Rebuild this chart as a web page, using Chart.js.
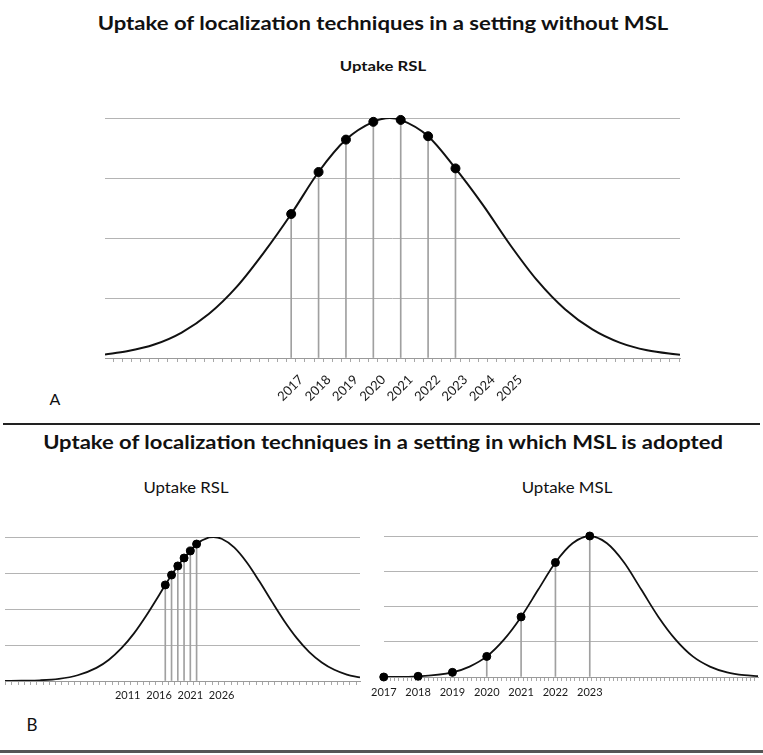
<!DOCTYPE html>
<html>
<head>
<meta charset="utf-8">
<script src="https://cdn.jsdelivr.net/npm/chart.js@4.4.1/dist/chart.umd.min.js"></script>
<style>
    body { margin: 0; background: #fff; }
    #page { position: relative; width: 763px; height: 755px; overflow: hidden; font-family: Lato, 'Open Sans', sans-serif; color: #111; }
    .txt { position: absolute; white-space: nowrap; line-height: 1; transform-origin: 0 0; }
    .rule { position: absolute; }
    canvas { position: absolute; }
</style>
</head>
<body>
<div id="page">
    <div class="txt" data-cx="383" data-cy="22" data-w="571" style="font-weight:700;font-size:19px">Uptake of localization techniques in a setting without MSL</div>
    <div class="txt" data-cx="383" data-cy="66" data-w="86" style="font-weight:700;font-size:14px">Uptake RSL</div>
    <div class="txt" data-cx="55" data-cy="399" style="font-size:16px">A</div>
    <div class="rule" style="left:3px;top:423px;width:757px;height:2px;background:#222"></div>
    <div class="txt" data-cx="383" data-cy="441" data-w="680" style="font-weight:700;font-size:19px">Uptake of localization techniques in a setting in which MSL is adopted</div>
    <div class="txt" data-cx="186" data-cy="487" data-w="85" style="font-size:15px">Uptake RSL</div>
    <div class="txt" data-cx="567" data-cy="487" data-w="91" style="font-size:15px">Uptake MSL</div>
    <div class="txt" data-cx="32" data-cy="724" style="font-size:17px">B</div>
    <div class="rule" style="left:0;top:750px;width:763px;height:3px;background:#555"></div>

    <canvas id="chart-a" width="763" height="360" style="left:0;top:60px"></canvas>
    <canvas id="chart-bl" width="370" height="200" style="left:0;top:520px"></canvas>
    <canvas id="chart-br" width="397" height="200" style="left:366px;top:520px"></canvas>
</div>
<script>
// Panel A - RSL uptake without MSL (values in % of peak)
const curveYearsA = [2010.2, 2011, 2012, 2013, 2014, 2015, 2016, 2017, 2018, 2019, 2020, 2020.6, 2021, 2022, 2023, 2024, 2025, 2026, 2027, 2028, 2029, 2030, 2031.2];
const curveValuesA = [1.5, 2.8, 5.6, 10.6, 18.4, 29.5, 43.9, 60, 77.5, 91, 98.4, 100, 99.2, 92.4, 79, 63.8, 47.1, 32.1, 20.3, 11.9, 6.4, 3.2, 1.3];
const pointYearsA = [2017, 2018, 2019, 2020, 2021, 2022, 2023];
const pointValuesA = [60, 77.5, 91, 98.4, 99.2, 92.4, 79];
const tickLabelsA = [2017, 2018, 2019, 2020, 2021, 2022, 2023, 2024, 2025];

// Panel B left - RSL uptake when MSL is adopted
const curveYearsBL = [1991.4, 1994, 1997, 2000, 2003, 2006, 2008, 2010, 2012, 2014, 2016, 2017, 2018, 2019, 2020, 2021, 2022, 2024, 2024.7, 2026, 2028, 2030, 2032, 2034, 2036, 2038, 2040, 2042, 2044, 2046, 2048.1];
const curveValuesBL = [0, 0.2, 0.5, 1.5, 4, 9.1, 14.8, 22.8, 33.1, 45.7, 59.6, 66.7, 73.6, 79.9, 85.4, 90.3, 95.1, 99.7, 100, 98.8, 92.8, 82.5, 69.4, 55.3, 41.7, 29.8, 20.1, 12.9, 7.8, 4.5, 2.5];
const pointYearsBL = [2017, 2018, 2019, 2020, 2021, 2022];
const pointValuesBL = [66.7, 73.6, 79.9, 85.4, 90.3, 95.1];
const tickLabelsBL = [2011, 2016, 2021, 2026];

// Panel B right - MSL uptake
const curveYearsBR = [2017, 2018, 2019, 2019.5, 2020, 2020.5, 2021, 2021.5, 2022, 2022.5, 2023, 2023.5, 2024, 2024.5, 2025, 2025.5, 2026, 2026.5, 2027, 2027.5, 2027.9];
const curveValuesBR = [0, 0.5, 3.3, 7.4, 14.6, 26.5, 42.6, 62, 81.2, 94.8, 100, 94.8, 81.2, 62, 42.6, 26.5, 14.6, 7.4, 3.3, 1.3, 0.6];
const pointYearsBR = [2017, 2018, 2019, 2020, 2021, 2022, 2023];
const pointValuesBR = [0, 0.5, 3.3, 14.6, 42.6, 81.2, 100];
const tickLabelsBR = [2017, 2018, 2019, 2020, 2021, 2022, 2023];

const FONT = 'Lato, "Open Sans", sans-serif';

// place and stretch the html texts
document.querySelectorAll('.txt').forEach(el => {
    el.style.left = el.dataset.cx + 'px';
    el.style.top = el.dataset.cy + 'px';
    let sx = 1;
    if (el.dataset.w) {
        sx = parseFloat(el.dataset.w) / el.offsetWidth;
    }
    el.style.transform = `scaleX(${sx}) translate(-50%, -50%)`;
});

function toXY(xs, ys) {
    return xs.map((x, i) => ({ x: x, y: ys[i] }));
}

// small tick marks along the x axis
function minorTicks(min, max, step) {
    const ticks = [];
    for (let k = Math.ceil(min / step - 1e-6); k * step <= max + 1e-6; k++) {
        ticks.push({ value: k * step });
    }
    return ticks;
}

function buildChart(id, cfg) {
    return new Chart(document.getElementById(id), {
        type: 'scatter',
        data: {
            datasets: [
                {
                    type: 'bar',
                    data: toXY(cfg.pointYears, cfg.pointValues),
                    backgroundColor: '#a0a0a0',
                    barThickness: 1,
                    order: 3
                },
                {
                    type: 'line',
                    data: toXY(cfg.curveYears, cfg.curveValues),
                    borderColor: '#111',
                    borderWidth: cfg.lineWidth,
                    pointRadius: 0,
                    cubicInterpolationMode: 'monotone',
                    fill: false,
                    order: 2
                },
                {
                    type: 'scatter',
                    data: toXY(cfg.pointYears, cfg.pointValues),
                    backgroundColor: '#000',
                    borderColor: '#000',
                    pointRadius: cfg.pointRadius,
                    clip: false,
                    order: 1
                }
            ]
        },
        options: {
            responsive: false,
            animation: false,
            devicePixelRatio: 1,
            layout: { padding: cfg.padding },
            plugins: {
                legend: { display: false },
                tooltip: { enabled: false }
            },
            scales: {
                x: {
                    type: 'linear',
                    min: cfg.min,
                    max: cfg.max,
                    offset: false,
                    grid: {
                        drawOnChartArea: false,
                        drawTicks: true,
                        tickLength: 4,
                        tickColor: '#a8a8a8'
                    },
                    border: { display: true, color: '#9a9a9a' },
                    ticks: {
                        autoSkip: false,
                        minRotation: cfg.rotation,
                        maxRotation: cfg.rotation,
                        padding: cfg.labelPadding,
                        labelOffset: cfg.labelOffset,
                        color: '#1a1a1a',
                        font: { family: FONT, size: cfg.fontSize },
                        callback: function(value) {
                            const hit = cfg.tickLabels.find(y => Math.abs(y - value) < 1e-6);
                            return hit === undefined ? '' : String(hit);
                        }
                    },
                    afterBuildTicks: function(scale) {
                        scale.ticks = minorTicks(cfg.min, cfg.max, cfg.tickStep);
                    },
                    afterFit: function(scale) {
                        scale.height = cfg.axisHeight;
                    }
                },
                y: {
                    min: 0,
                    max: 100,
                    ticks: { display: false, stepSize: 25 },
                    grid: { color: '#b4b4b4', drawTicks: false },
                    border: { display: false },
                    afterFit: function(scale) {
                        scale.width = 0;
                    }
                }
            }
        }
    });
}

buildChart('chart-a', {
    curveYears: curveYearsA, curveValues: curveValuesA,
    pointYears: pointYearsA, pointValues: pointValuesA,
    tickLabels: tickLabelsA,
    min: 2010.2, max: 2031.2, tickStep: 1 / 3,
    padding: { left: 105, right: 83, top: 58, bottom: 0 },
    axisHeight: 62, rotation: 45, labelPadding: 10, labelOffset: 10, fontSize: 13,
    lineWidth: 2, pointRadius: 4.5
});

buildChart('chart-bl', {
    curveYears: curveYearsBL, curveValues: curveValuesBL,
    pointYears: pointYearsBL, pointValues: pointValuesBL,
    tickLabels: tickLabelsBL,
    min: 1991.4, max: 2048.1, tickStep: 1,
    padding: { left: 4, right: 10, top: 17, bottom: 0 },
    axisHeight: 39, rotation: 0, labelPadding: 4, labelOffset: 0, fontSize: 11,
    lineWidth: 1.8, pointRadius: 4
});

buildChart('chart-br', {
    curveYears: curveYearsBR, curveValues: curveValuesBR,
    pointYears: pointYearsBR, pointValues: pointValuesBR,
    tickLabels: tickLabelsBR,
    min: 2017, max: 2027.9, tickStep: 1 / 8,
    padding: { left: 14, right: 3, top: 16, bottom: 0 },
    axisHeight: 43, rotation: 0, labelPadding: 5, labelOffset: 0, fontSize: 11,
    lineWidth: 1.8, pointRadius: 4
});
</script>
</body>
</html>
